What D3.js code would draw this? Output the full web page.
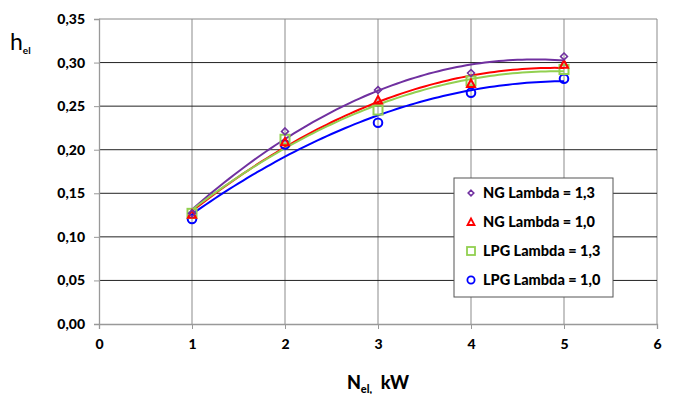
<!DOCTYPE html>
<html>
<head>
<meta charset="utf-8">
<script src="https://cdn.jsdelivr.net/npm/d3@7"></script>
<style>
  body { margin: 0; background: #fff; }
  text { font-family: Lato, "Open Sans", sans-serif; }
</style>
</head>
<body>
<svg id="chart" width="676" height="394"></svg>
<script>
// power output, kW
const powerKW = [1, 2, 3, 4, 5];
// electrical efficiency per series
const ngLambda13 = [0.127, 0.221, 0.2685, 0.288, 0.307];
const ngLambda10 = [0.126, 0.209, 0.257, 0.276, 0.298];
const lpgLambda13 = [0.127, 0.212, 0.2455, 0.279, 0.292];
const lpgLambda10 = [0.1205, 0.206, 0.231, 0.2655, 0.2815];
const seriesNames = ["NG Lambda = 1,3", "NG Lambda = 1,0", "LPG Lambda = 1,3", "LPG Lambda = 1,0"];
const yTicks = [0, 0.05, 0.10, 0.15, 0.20, 0.25, 0.30, 0.35];
const xTicks = [0, 1, 2, 3, 4, 5, 6];

const series = [
  { name: seriesNames[0], vals: ngLambda13, color: "#7030a0", shape: "diamond" },
  { name: seriesNames[1], vals: ngLambda10, color: "#ff0000", shape: "triangle" },
  { name: seriesNames[2], vals: lpgLambda13, color: "#92d050", shape: "square" },
  { name: seriesNames[3], vals: lpgLambda10, color: "#0000ff", shape: "circle" }
];

const svg = d3.select("#chart");
const plotL = 99, plotR = 657, plotT = 19, plotB = 324;

const x = d3.scaleLinear().domain([0, 6]).range([plotL, plotR]);
const y = d3.scaleLinear().domain([0, 0.35]).range([plotB, plotT]);
const fmt = v => d3.format(".2f")(v).replace(".", ",");

// grid
svg.append("g").selectAll("line")
  .data(xTicks.slice(1))
  .enter().append("line")
  .attr("x1", d => x(d)).attr("x2", d => x(d))
  .attr("y1", plotT).attr("y2", plotB)
  .attr("stroke", "#a6a6a6").attr("stroke-width", 1.3);

svg.append("g").selectAll("line")
  .data(yTicks.slice(1))
  .enter().append("line")
  .attr("x1", plotL).attr("x2", plotR)
  .attr("y1", d => y(d)).attr("y2", d => y(d))
  .attr("stroke", d => d === 0.35 ? "#888" : "#222").attr("stroke-width", 1);

// axes
const yAxis = svg.append("g").attr("transform", `translate(${plotL},0)`)
  .call(d3.axisLeft(y).tickValues(yTicks).tickFormat(fmt).tickSize(5).tickPadding(9));
const xAxis = svg.append("g").attr("transform", `translate(0,${plotB})`)
  .call(d3.axisBottom(x).tickValues(xTicks).tickFormat(d3.format("d")).tickSize(5).tickPadding(10));
[yAxis, xAxis].forEach(a => {
  a.select(".domain").attr("stroke", "#999").attr("stroke-width", 1.3);
  a.selectAll(".tick line").attr("stroke", "#999");
  a.selectAll(".tick text").attr("font-size", 14).attr("font-weight", 900).attr("fill", "#000")
    .style("font-family", "Lato, sans-serif");
});

// quadratic least squares trend line (like spreadsheet polynomial trend)
function quadFit(xs, ys) {
  const n = xs.length;
  let s = [0, 0, 0, 0, 0], t = [0, 0, 0];
  for (let i = 0; i < n; i++) {
    for (let k = 0; k < 5; k++) s[k] += Math.pow(xs[i], k);
    for (let k = 0; k < 3; k++) t[k] += ys[i] * Math.pow(xs[i], k);
  }
  const A = [[s[0], s[1], s[2], t[0]], [s[1], s[2], s[3], t[1]], [s[2], s[3], s[4], t[2]]];
  for (let i = 0; i < 3; i++) {
    for (let j = i + 1; j < 3; j++) {
      const f = A[j][i] / A[i][i];
      for (let k = i; k < 4; k++) A[j][k] -= f * A[i][k];
    }
  }
  const c = [0, 0, 0];
  for (let i = 2; i >= 0; i--) {
    let v = A[i][3];
    for (let k = i + 1; k < 3; k++) v -= A[i][k] * c[k];
    c[i] = v / A[i][i];
  }
  return xv => c[0] + c[1] * xv + c[2] * xv * xv;
}

const line = d3.line().x(d => x(d[0])).y(d => y(d[1]));
series.forEach(s => {
  const f = quadFit(powerKW, s.vals);
  const pts = d3.range(1, 5.001, 0.05).map(v => [v, f(v)]);
  svg.append("path").datum(pts).attr("d", line)
    .attr("fill", "none").attr("stroke", s.color).attr("stroke-width", 2);
});

function marker(g, shape, color) {
  if (shape === "diamond") {
    g.append("path").attr("d", d3.symbol(d3.symbolDiamond2, 30)())
      .attr("fill", "none").attr("stroke", color).attr("stroke-width", 1.6);
  } else if (shape === "triangle") {
    g.append("path").attr("d", "M0,-4L4,3.5L-4,3.5Z")
      .attr("fill", "none").attr("stroke", color).attr("stroke-width", 2);
  } else if (shape === "square") {
    g.append("rect").attr("x", -4.5).attr("y", -4.5).attr("width", 9).attr("height", 9)
      .attr("fill", "none").attr("stroke", color).attr("stroke-width", 2);
  } else {
    g.append("circle").attr("r", 4.3)
      .attr("fill", "none").attr("stroke", color).attr("stroke-width", 2);
  }
}

// draw markers back to front (blue on top)
series.slice().reverse().forEach(s => {
  s.vals.forEach((v, i) => {
    const g = svg.append("g").attr("transform", `translate(${x(powerKW[i])},${y(v)})`);
    marker(g, s.shape, s.color);
  });
});

// legend
const lg = svg.append("g").attr("transform", "translate(454,178)");
lg.append("rect").attr("width", 159).attr("height", 119)
  .attr("fill", "#fff").attr("stroke", "#555").attr("stroke-width", 1);
series.forEach((s, i) => {
  const row = lg.append("g").attr("transform", `translate(0,${15 + i * 29})`);
  const m = row.append("g").attr("transform", "translate(17,0)");
  if (s.shape === "diamond") {
    m.append("path").attr("d", d3.symbol(d3.symbolDiamond2, 20)())
      .attr("fill", "none").attr("stroke", s.color).attr("stroke-width", 1.6);
  } else if (s.shape === "triangle") {
    m.append("path").attr("d", "M0,-3.5L3.5,3L-3.5,3Z")
      .attr("fill", "none").attr("stroke", s.color).attr("stroke-width", 1.8);
  } else if (s.shape === "square") {
    m.append("rect").attr("x", -4).attr("y", -4).attr("width", 8).attr("height", 8)
      .attr("fill", "none").attr("stroke", s.color).attr("stroke-width", 1.8);
  } else {
    m.append("circle").attr("r", 3.6)
      .attr("fill", "none").attr("stroke", s.color).attr("stroke-width", 1.8);
  }
  row.append("text").attr("x", 29).attr("y", 5)
    .attr("font-size", 14.5).attr("font-weight", 900).text(s.name);
});

// axis titles
const yt = svg.append("text").attr("x", 10).attr("y", 50).attr("font-size", 23);
yt.append("tspan").text("h");
yt.append("tspan").attr("font-size", 10).attr("font-weight", "bold").attr("dy", 4).text("el");

const xt = svg.append("text").attr("x", 378).attr("y", 389).attr("text-anchor", "middle")
  .attr("font-size", 18).attr("font-weight", 900);
xt.append("tspan").text("N");
xt.append("tspan").attr("font-size", 11).attr("dy", 4).text("el,");
xt.append("tspan").attr("dy", -4).text("\u00a0 kW");
</script>
</body>
</html>
